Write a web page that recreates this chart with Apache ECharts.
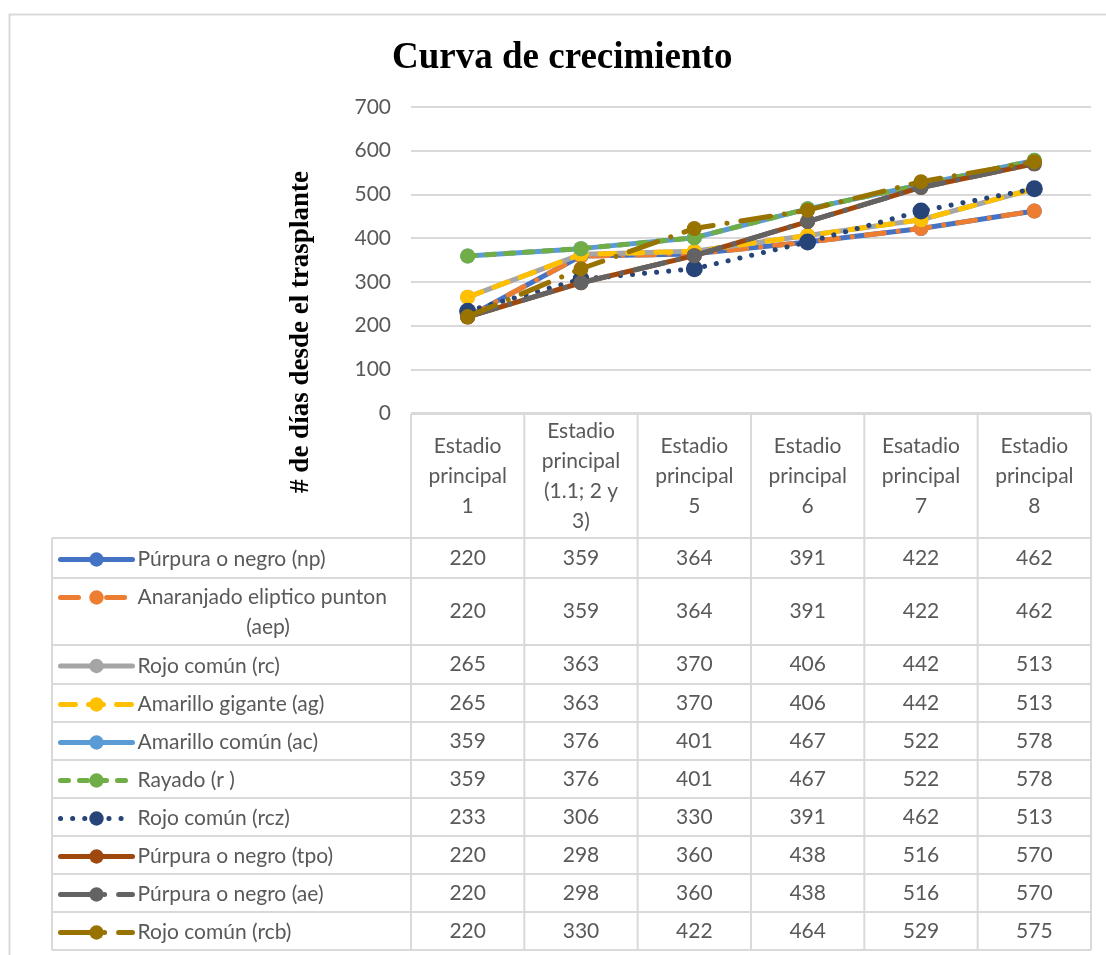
<!DOCTYPE html>
<html>
<head>
<meta charset="utf-8">
<script src="https://cdn.jsdelivr.net/npm/echarts@6/dist/echarts.min.js"></script>
<style>
  html, body { margin: 0; padding: 0; background: #fff; }
  #main { width: 1106px; height: 955px; }
</style>
</head>
<body>
<div id="main"></div>
<script>
var chartDom = document.getElementById('main');
var myChart = echarts.init(chartDom);

// categories (x axis / table header)
const stages = [
  'Estadio\nprincipal\n1',
  'Estadio\nprincipal\n(1.1; 2 y\n3)',
  'Estadio\nprincipal\n5',
  'Estadio\nprincipal\n6',
  'Esatadio\nprincipal\n7',
  'Estadio\nprincipal\n8'
];

// series names
const seriesNames = [
  'Púrpura o negro (np)',
  'Anaranjado eliptico punton (aep)',
  'Rojo común (rc)',
  'Amarillo gigante (ag)',
  'Amarillo común (ac)',
  'Rayado (r )',
  'Rojo común (rcz)',
  'Púrpura o negro (tpo)',
  'Púrpura o negro (ae)',
  'Rojo común (rcb)'
];

// days since transplant, one array per series
const npDays  = [220, 359, 364, 391, 422, 462];
const aepDays = [220, 359, 364, 391, 422, 462];
const rcDays  = [265, 363, 370, 406, 442, 513];
const agDays  = [265, 363, 370, 406, 442, 513];
const acDays  = [359, 376, 401, 467, 522, 578];
const rDays   = [359, 376, 401, 467, 522, 578];
const rczDays = [233, 306, 330, 391, 462, 513];
const tpoDays = [220, 298, 360, 438, 516, 570];
const aeDays  = [220, 298, 360, 438, 516, 570];
const rcbDays = [220, 330, 422, 464, 529, 575];

const allDays = [npDays, aepDays, rcDays, agDays, acDays, rDays, rczDays, tpoDays, aeDays, rcbDays];

// styles per series (Excel palette + dash patterns)
const lineLooks = [
  { color: '#4472C4', dash: 'solid', size: 15 },
  { color: '#ED7D31', dash: [18, 14, 0.1, 14], size: 15 },
  { color: '#A5A5A5', dash: 'solid', size: 15 },
  { color: '#FFC000', dash: [15, 13], size: 15 },
  { color: '#5B9BD5', dash: 'solid', size: 15 },
  { color: '#70AD47', dash: [8, 11], size: 15 },
  { color: '#264478', dash: [0.1, 12], size: 17 },
  { color: '#9E480E', dash: 'solid', size: 15 },
  { color: '#636363', dash: [30, 14, 0.1, 14], size: 15 },
  { color: '#997300', dash: [30, 14, 0.1, 14], size: 15 }
];

// table layout (pixel rows)
const tableLeft = 52;
const headerTop = 414;
const rowEdges = [538, 578, 645, 684, 722, 760, 798, 836, 874, 912, 950];
const gridLeft = 411, gridRight = 15, gridTop = 107, gridBottom = 955 - 413;
const textColor = '#595959';
const lineColor = '#D9D9D9';
const baseFont = 'Lato, "Open Sans", sans-serif';

const series = seriesNames.map(function (name, i) {
  const look = lineLooks[i];
  return {
    name: name,
    type: 'line',
    data: allDays[i],
    symbol: 'circle',
    symbolSize: look.size,
    itemStyle: { color: look.color },
    lineStyle: { color: look.color, width: 5, type: look.dash, cap: 'round', join: 'round' },
    emphasis: { disabled: true },
    z: 2 + i
  };
});

const legends = seriesNames.map(function (name, i) {
  let top = (rowEdges[i] + rowEdges[i + 1]) / 2 - 9;
  if (i === 1) top = 596 - 9;
  return {
    data: [name],
    left: 58,
    top: top,
    padding: 0,
    itemWidth: 72,
    itemHeight: 18,
    itemGap: 0,
    selectedMode: false,
    lineStyle: { width: 5, cap: 'round' },
    formatter: function (n) { return n.indexOf('(aep)') >= 0 ? n.replace(' (aep)', '') : n; },
    textStyle: { color: textColor, fontSize: 21, fontFamily: baseFont, padding: [0, 0, 0, 0] }
  };
});

let option = {
  backgroundColor: '#fff',
  animation: false,
  title: {
    text: 'Curva de crecimiento',
    left: 387,
    top: 35,
    textStyle: { fontFamily: '"Liberation Serif", "Times New Roman", serif', fontWeight: 'bold', fontSize: 37, color: '#000' }
  },
  legend: legends,
  grid: { left: gridLeft, right: gridRight, top: gridTop, bottom: gridBottom },
  xAxis: {
    type: 'category',
    data: stages,
    boundaryGap: true,
    axisLine: { show: false },
    axisTick: { show: false },
    axisLabel: {
      interval: 0,
      margin: 63,
      verticalAlign: 'middle',
      lineHeight: 30,
      color: textColor,
      fontSize: 21,
      fontFamily: baseFont
    },
    splitLine: { show: false }
  },
  yAxis: {
    type: 'value',
    min: 0,
    max: 700,
    interval: 100,
    name: '# de días desde el trasplante',
    nameLocation: 'middle',
    nameGap: 96,
    nameTextStyle: {
      fontFamily: '"Liberation Serif", "Times New Roman", serif',
      fontWeight: 'bold',
      fontSize: 27,
      color: '#000',
      padding: [0, 144, 0, 0]
    },
    axisLine: { show: false },
    axisTick: { show: false },
    axisLabel: { margin: 20, color: textColor, fontSize: 21, fontFamily: baseFont },
    splitLine: { lineStyle: { color: lineColor, width: 2 } }
  },
  series: series
};

myChart.setOption(option);

// data table under the plot, aligned to the category axis
const colX = stages.map(function (s, i) { return myChart.convertToPixel({ xAxisIndex: 0 }, i); });
const colW = colX.length > 1 ? colX[1] - colX[0] : 113;
const tableRight = colX[colX.length - 1] + colW / 2;
const graphics = [];

// outer chart border
graphics.push({
  type: 'rect', left: 7, top: 12, z: 0, silent: true,
  shape: { width: 1120, height: 1000 },
  style: { fill: null, stroke: lineColor, lineWidth: 2 }
});

function hline(x1, x2, y) {
  graphics.push({ type: 'line', silent: true, shape: { x1: x1, y1: y, x2: x2, y2: y }, style: { stroke: lineColor, lineWidth: 2 } });
}
function vline(x, y1, y2) {
  graphics.push({ type: 'line', silent: true, shape: { x1: x, y1: y1, x2: x, y2: y2 }, style: { stroke: lineColor, lineWidth: 2 } });
}

hline(gridLeft, tableRight, headerTop);
rowEdges.forEach(function (y) { hline(tableLeft, tableRight, y); });
vline(tableLeft, rowEdges[0], rowEdges[rowEdges.length - 1]);
colX.forEach(function (x) { vline(x - colW / 2, headerTop, rowEdges[rowEdges.length - 1]); });
vline(tableRight, headerTop, rowEdges[rowEdges.length - 1]);

allDays.forEach(function (vals, r) {
  const cy = (rowEdges[r] + rowEdges[r + 1]) / 2;
  vals.forEach(function (v, c) {
    graphics.push({
      type: 'text', silent: true, x: colX[c], y: cy,
      style: { text: String(v), fill: textColor, font: '21px ' + baseFont, align: 'center', verticalAlign: 'middle' }
    });
  });
});

// second line of the long legend label
graphics.push({
  type: 'text', silent: true, x: 268, y: 627,
  style: { text: '(aep)', fill: textColor, font: '21px ' + baseFont, align: 'center', verticalAlign: 'middle' }
});

myChart.setOption({ graphic: { elements: graphics } });
</script>
</body>
</html>
